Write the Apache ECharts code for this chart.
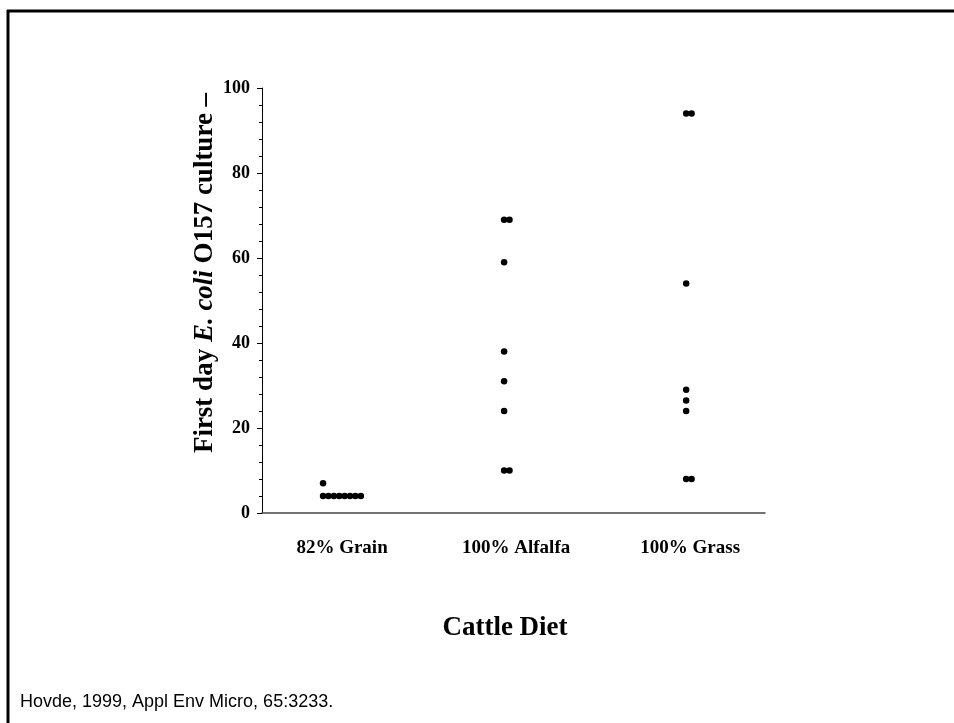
<!DOCTYPE html>
<html>
<head>
<meta charset="utf-8">
<script src="https://cdn.jsdelivr.net/npm/echarts@6/dist/echarts.min.js"></script>
<style>html,body{margin:0;padding:0;background:#fff;}#c{width:954px;height:723px;}</style>
</head>
<body>
<div id="c"></div>
<script>
const categories = ['82% Grain', '100% Alfalfa', '100% Grass'];
const grainValues = [7, 4, 4, 4, 4, 4, 4, 4, 4];
const alfalfaValues = [69, 69, 59, 38, 31, 24, 10, 10];
const grassValues = [94, 94, 54, 29, 26.5, 24, 8, 8];
const yTicks = [0, 20, 40, 60, 80, 100];

const groups = [grainValues, alfalfaValues, grassValues];
const baseShift = [-19, -12, -4];   // px shift of first dot relative to category centre
const dotStep = 5.4;                // px between side-by-side duplicate dots

function buildPoints(vals, idx) {
  const seen = {};
  return vals.map(v => {
    const slot = seen[v] || 0;
    seen[v] = slot + 1;
    return { value: [idx, v], symbolOffset: [baseShift[idx] + slot * dotStep, 0] };
  });
}

const serif = '"Liberation Serif", "Times New Roman", serif';
const chart = echarts.init(document.getElementById('c'));
chart.setOption({
  animation: false,
  backgroundColor: '#fff',
  grid: { left: 262, top: 88, right: 189, bottom: 210 },
  xAxis: {
    type: 'value', min: -0.46, max: 2.43,
    axisLine: { show: true, onZero: false, lineStyle: { color: '#444', width: 1.5 } },
    axisTick: { show: false },
    splitLine: { show: false },
    axisLabel: {
      customValues: [0, 1, 2],
      formatter: v => categories[Math.round(v)],
      margin: 26,
      fontFamily: serif, fontWeight: 'bold', fontSize: 19, color: '#000'
    }
  },
  yAxis: {
    type: 'value', min: 0, max: 100, interval: 20,
    axisLine: { show: true, onZero: false, lineStyle: { color: '#000', width: 1 } },
    axisTick: { show: true, length: 5, lineStyle: { color: '#000' } },
    minorTick: { show: true, splitNumber: 5, length: 3, lineStyle: { color: '#000' } },
    splitLine: { show: false },
    axisLabel: {
      customValues: yTicks,
      margin: 12,
      fontFamily: serif, fontWeight: 'bold', fontSize: 18, color: '#000'
    }
  },
  series: groups.map((vals, i) => ({
    type: 'scatter',
    symbol: 'circle',
    symbolSize: 6.5,
    itemStyle: { color: '#000', opacity: 1 },
    data: buildPoints(vals, i)
  })),
  graphic: [
    { type: 'line', shape: { x1: 7, y1: 11, x2: 954, y2: 11 }, style: { stroke: '#000', lineWidth: 3 } },
    { type: 'line', shape: { x1: 8, y1: 10, x2: 8, y2: 723 }, style: { stroke: '#000', lineWidth: 3 } },
    {
      type: 'text', x: 205, y: 273, rotation: Math.PI / 2,
      style: {
        text: '{b|First day }{i|E. coli}{b| O157 culture –}',
        align: 'center', verticalAlign: 'middle',
        rich: {
          b: { fontFamily: serif, fontWeight: 'bold', fontSize: 27, fill: '#000' },
          i: { fontFamily: serif, fontWeight: 'bold', fontStyle: 'italic', fontSize: 27, fill: '#000' }
        }
      }
    },
    {
      type: 'text', x: 505, y: 628,
      style: { text: 'Cattle Diet', align: 'center', verticalAlign: 'middle',
        fontFamily: serif, fontWeight: 'bold', fontSize: 27, fill: '#000' }
    },
    {
      type: 'text', x: 20, y: 702,
      style: { text: 'Hovde, 1999, Appl Env Micro, 65:3233.', align: 'left', verticalAlign: 'middle',
        fontFamily: '"Liberation Sans", Arial, sans-serif', fontSize: 18, fill: '#000' }
    }
  ]
});
</script>
</body>
</html>
